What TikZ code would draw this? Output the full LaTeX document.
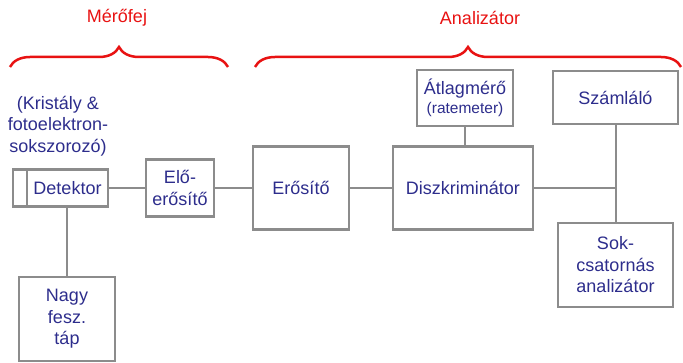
\documentclass[tikz,border=0pt]{standalone}
\usepackage{fontspec}
\setmainfont{Liberation Sans}
\usetikzlibrary{decorations.pathreplacing}
\definecolor{doboz}{RGB}{140,140,140}
\definecolor{felirat}{RGB}{45,45,140}
\definecolor{piros}{RGB}{232,18,18}
\tikzset{
	blokk/.style={draw=doboz, line width=2.2pt, text=felirat, inner sep=0pt, align=center,
		font=\fontsize{18}{21.5}\selectfont},
	vonal/.style={doboz, line width=2pt},
	kapocs/.style={piros, line width=2.5pt, decorate, decoration={brace, amplitude=20pt}},
	cimke/.style={text=piros, font=\fontsize{18}{21.5}\selectfont},
}

\begin{document}
\begin{tikzpicture}[x=1pt, y=-1pt]
			%%%%% START %%%%%
			\useasboundingbox (0, 0) rectangle (683, 363);
			
			% fejlecek
			\node[cimke] (merofej) at (117, 18) {Mérőfej};
			\node[cimke] (analiz) at (480, 18) {Analizátor};
			\draw[kapocs] (10, 67) -- (228, 67);
			\draw[kapocs] (255, 67) -- (681, 67);
			
			% merofej resz
			\node[blokk, draw=none] (kristaly) at (58, 126) {(Kristály \&\\fotoelektron-\\sokszorozó)};
			\node[blokk, minimum width=14, minimum height=37] (detvege) at (20, 188) {};
			\node[blokk, minimum width=81, minimum height=37] (det) at (67.5, 188) {Detektor};
			\node[blokk, minimum width=68, minimum height=57] (eloer) at (180, 188) {Elő-\\erősítő};
			\node[blokk, minimum width=96, minimum height=84] (tap) at (67, 319) {Nagy\\fesz.\\táp};
			
			% analizator resz
			\node[blokk, minimum width=96, minimum height=83] (eros) at (301, 188) {Erősítő};
			\node[blokk, minimum width=140, minimum height=83] (diszkr) at (463, 188) {Diszkriminátor};
			\node[blokk, minimum width=96, minimum height=56] (atlag) at (465, 98) {Átlagmérő\\[-2pt]{\fontsize{15.5}{18}\selectfont(ratemeter)}};
			\node[blokk, minimum width=125, minimum height=53] (szaml) at (615.5, 97.5) {Számláló};
			\node[blokk, minimum width=115, minimum height=84] (sokcs) at (615.5, 265) {Sok-\\csatornás\\analizátor};
			
			% osszekotesek
			\coordinate (elagazas) at (szaml.south |- diszkr.east);
			\draw[vonal] (det.east) -- (eloer.west);
			\draw[vonal] (eloer.east) -- (eros.west);
			\draw[vonal] (eros.east) -- (diszkr.west);
			\draw[vonal] (diszkr.east) -- (elagazas);
			\draw[vonal] (szaml.south) -- (sokcs.north);
			\draw[vonal] (atlag.south) -- (atlag.south |- diszkr.north);
			\draw[vonal] (tap.north) -- (tap.north |- det.south);
			%%%%% END %%%%%
\end{tikzpicture}
\end{document}
